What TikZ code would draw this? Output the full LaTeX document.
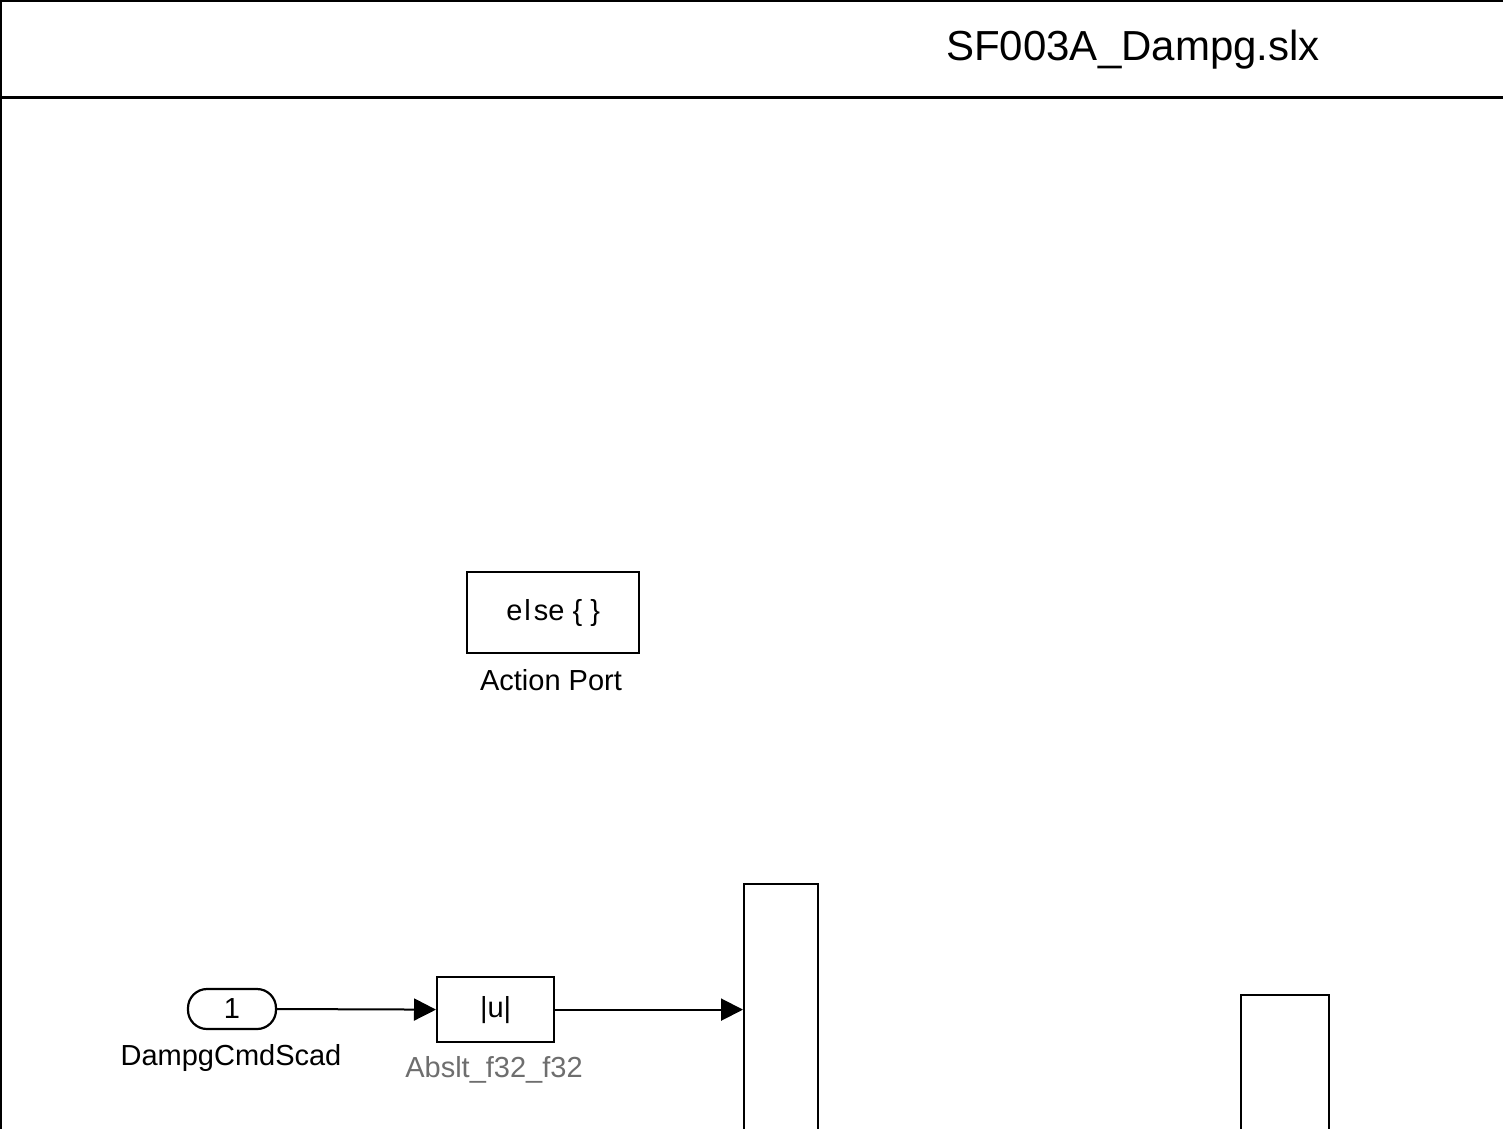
\documentclass[tikz,border=0pt]{standalone}
\usepackage{fontspec}
\setmainfont{Liberation Sans}
\usetikzlibrary{arrows.meta}
\definecolor{lblgray}{RGB}{110,110,110}
\tikzset{
  blk/.style={draw=black, line width=2.2pt, fill=white, inner sep=0pt, anchor=north west},
  conn/.style={line width=2pt, -{Triangle[length=22pt,width=22pt]}},
  lbl/.style={inner sep=0pt, font=\fontsize{29}{33}\selectfont},
}
\begin{document}
\begin{tikzpicture}[x=1pt,y=-1pt]
\useasboundingbox (0,0) rectangle (1503,1128);
\fill[white] (0,0) rectangle (1503,1128);
% frame
\draw[line width=2pt] (1503,1) -- (1,1) -- (1,1140);
\draw[line width=3pt] (0,97) -- (1503,97);
\node[lbl, font=\fontsize{42}{48}\selectfont] (title) at (1133,50) {SF003A\_Dampg.slx};
% action port
\node[blk, minimum width=172pt, minimum height=81pt] (act) at (466,571) {};
\node[lbl] (acttxt) at (act.center) {e\kern2pt l\kern3pt se \{ \}};
\node[lbl] (actlbl) at (551,680) {Action Port};
% inport
\node[draw=black, line width=2.2pt, rounded corners=19pt, minimum width=88pt, minimum height=40pt, inner sep=0pt, lbl] (in1) at (232,1009) {1};
\node[lbl] (in1lbl) at (231,1058) {DampgCmdScad};
% abs
\node[blk, minimum width=117pt, minimum height=65pt] (abs) at (436,976) {};
\node[lbl] (abstxt) at (abs.center) {|u|};
\node[lbl, text=lblgray] (abslbl) at (494,1070) {Abslt\_f32\_f32};
% tall blocks
\node[blk, minimum width=74pt, minimum height=330pt] (blkA) at (743,883) {};
\node[blk, minimum width=88pt, minimum height=220pt] (blkB) at (1240,994) {};
% connectors
\draw[conn] (in1.east) -- (abs.west);
\draw[conn] (abs.east) -- (blkA.west |- abs.east);
\end{tikzpicture}
\end{document}
